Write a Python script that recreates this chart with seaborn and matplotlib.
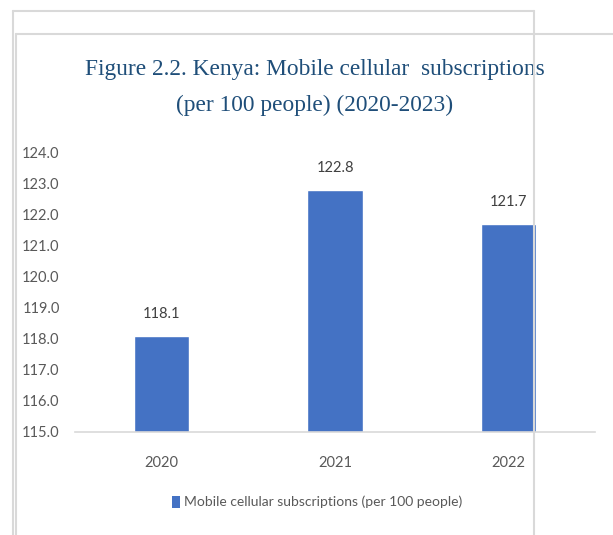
import matplotlib
matplotlib.use("Agg")
import matplotlib.pyplot as plt
from matplotlib import font_manager
from matplotlib.lines import Line2D
from matplotlib.patches import Patch
import seaborn as sns

years = ["2020", "2021", "2022"]
subscriptions = [118.1, 122.8, 121.7]
y_ticks = [115, 116, 117, 118, 119, 120, 121, 122, 123, 124]
title_lines = ["Figure 2.2. Kenya: Mobile cellular  subscriptions",
               "(per 100 people) (2020-2023)"]
legend_text = "Mobile cellular subscriptions (per 100 people)"

BAR = "#4472C4"
GREY_TEXT = "#595959"
FRAME = "#d9d9d9"
TITLE = "#1F4E79"

installed = {f.name for f in font_manager.fontManager.ttflist}
sans = "Liberation Sans Narrow" if "Liberation Sans Narrow" in installed else "Lato"
serif = "Liberation Serif"

sns.set_theme(style="white")
plt.rcParams["font.family"] = [sans, "DejaVu Sans"]

W, H = 613, 535
fig = plt.figure(figsize=(W / 100, H / 100), dpi=100)
ax = fig.add_axes([75 / W, 1 - 432 / H, 520 / W, 279 / H])

sns.barplot(x=years, y=subscriptions, color=BAR, saturation=1, width=0.32, ax=ax)
ax.set_ylim(115, 124)
ax.set_yticks(y_ticks)
ax.set_yticklabels([f"{t:.1f}" for t in y_ticks])
ax.set_xlabel("")
ax.set_ylabel("")

for s in ["top", "right", "left"]:
    ax.spines[s].set_visible(False)
ax.spines["bottom"].set_color(FRAME)
ax.spines["bottom"].set_linewidth(1.2)

ax.tick_params(axis="y", length=0, pad=11, labelsize=10.5, labelcolor=GREY_TEXT)
ax.tick_params(axis="x", length=0, pad=17, labelsize=10.5, labelcolor=GREY_TEXT)

ax.bar_label(ax.containers[0], labels=[f"{v:.1f}" for v in subscriptions],
             padding=11, fontsize=10.5, color="#404040")

for line, y in zip(title_lines, [70, 105]):
    fig.text(315 / W, 1 - y / H, line, ha="center", va="center",
             fontsize=16.8, color=TITLE, family=serif)

fig.legend(handles=[Patch(facecolor=BAR, edgecolor="none", label=legend_text)],
           loc="center", bbox_to_anchor=(317 / W, 1 - 502 / H), frameon=False,
           fontsize=10, labelcolor=GREY_TEXT, handlelength=0.6, handleheight=0.95,
           handletextpad=0.3)

# surrounding chart frame lines
def hline(y, x0, x1):
    fig.add_artist(Line2D([x0 / W, x1 / W], [1 - y / H, 1 - y / H], color=FRAME, lw=1.5, zorder=10))

def vline(x, y0, y1):
    fig.add_artist(Line2D([x / W, x / W], [1 - y0 / H, 1 - y1 / H], color=FRAME, lw=1.5, zorder=10))

hline(11, 13, 534)
hline(34, 16, 613)
vline(13, 11, 535)
vline(16, 34, 535)
vline(534, 11, 535)

fig.savefig("out.png", dpi=100)
